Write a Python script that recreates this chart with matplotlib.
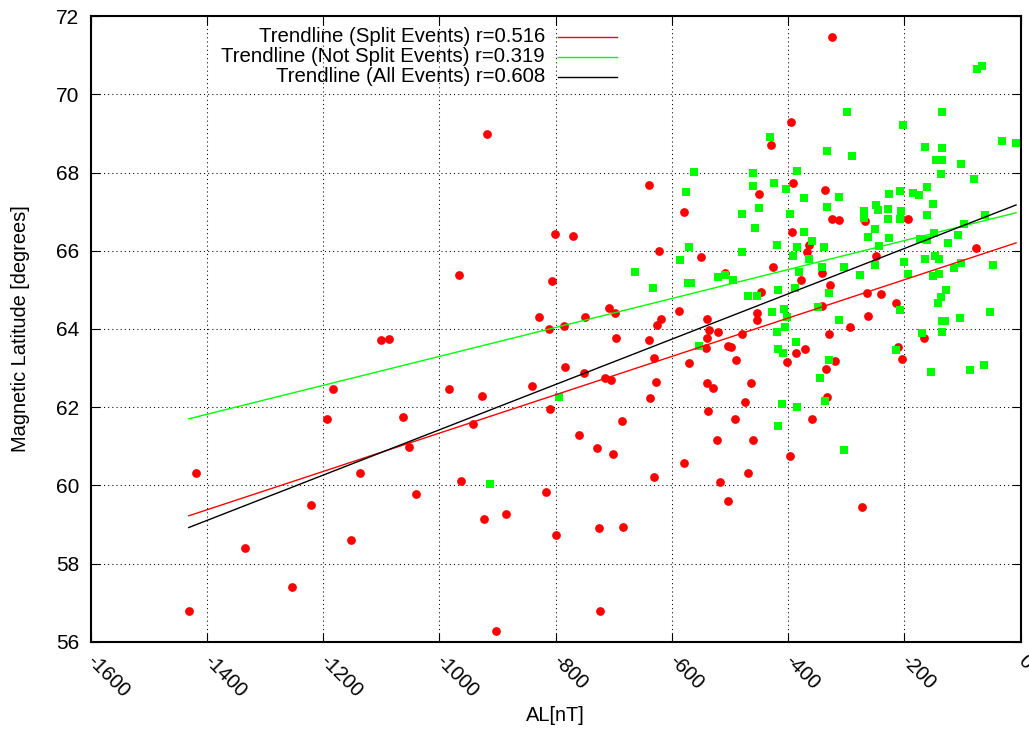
import matplotlib
matplotlib.use("Agg")
import matplotlib.pyplot as plt
from matplotlib.lines import Line2D

plt.rcParams['font.family'] = ['Liberation Sans', 'DejaVu Sans']
plt.rcParams['axes.unicode_minus'] = False

# ---------------- data ----------------
split_al = [-1100, -1087, -1183, -1194, -1418, -1136, -1220, -1334, -1152, -1253, -1431,
            -918, -640, -580, -801, -770, -623, -550, -966, -806, -588, -829, -708, -697,
            -749, -785, -811, -619, -625, -540, -537, -696, -640, -540, -541, -630, -570,
            -783, -752, -715, -705, -627, -540, -530, -984, -927, -841, -637,
            -1062, -1053, -942, -810, -686, -760, -728, -702, -579, -631, -962, -1040,
            -817, -923, -885, -800, -725, -684, -724, -903, -538,
            -324, -395, -430, -392, -450, -337, -325, -312, -268, -194, -393, -364, -77,
            -368, -426, -342, -508, -378, -249, -446, -328, -265, -240, -214, -453, -453,
            -341, -263, -294, -521, -480, -504, -498, -489, -387, -371, -402, -330, -320,
            -335, -333, -464, -475, -492, -359, -523, -461, -397, -517, -469, -504, -273,
            -166, -211, -204]
split_lat = [63.72, 63.75, 62.47, 61.70, 60.31, 60.31, 59.49, 58.40, 58.60, 57.41, 56.79,
             68.98, 67.67, 67.00, 66.42, 66.38, 65.99, 65.83, 65.39, 65.22, 64.45, 64.31, 64.54, 64.41,
             64.31, 64.08, 64.00, 64.25, 64.09, 64.25, 63.97, 63.76, 63.71, 63.78, 63.50, 63.26, 63.13,
             63.02, 62.88, 62.75, 62.69, 62.65, 62.61, 62.48, 62.46, 62.28, 62.54, 62.24,
             61.75, 60.98, 61.57, 61.94, 61.64, 61.29, 60.96, 60.80, 60.58, 60.20, 60.11, 59.78,
             59.83, 59.13, 59.26, 58.74, 58.90, 58.94, 56.79, 56.28, 61.90,
             71.47, 69.30, 68.70, 67.72, 67.44, 67.56, 66.82, 66.78, 66.75, 66.80, 66.48, 66.15, 66.06,
             65.97, 65.59, 65.44, 65.42, 65.25, 65.86, 64.94, 65.12, 64.93, 64.89, 64.65, 64.41, 64.23,
             64.59, 64.32, 64.05, 63.93, 63.87, 63.56, 63.53, 63.20, 63.39, 63.48, 63.16, 63.86, 63.18,
             62.97, 62.25, 62.62, 62.13, 61.70, 61.69, 61.16, 61.15, 60.74, 60.08, 60.31, 59.60, 59.45,
             63.76, 63.54, 63.23]

nosplit_al = [-562, -576, -570, -586, -664, -633, -573, -567, -553, -794, -912,
              -76, -67, -298, -135, -202, -431, -164, -136, -32, -8, -333, -290, -146, -136,
              -103, -137, -461, -384, -80, -461, -425, -403, -373, -312, -227, -207, -186,
              -175, -162, -151, -479, -450, -397, -333, -270, -269, -246, -249, -228, -228,
              -206, -208, -161, -61, -457, -372, -251, -262, -226, -173, -162, -149, -107,
              -97, -125, -419, -359, -384, -338, -243, -479,
              -391, -364, -341, -304, -520, -509, -495, -381, -277, -250, -200, -194, -165,
              -148, -141, -151, -140, -115, -102, -47, -469, -454, -418, -389, -329, -208,
              -142, -137, -129, -52, -105, -136, -130, -136, -427, -407, -402, -406, -348,
              -312, -419, -417, -409, -386, -329, -345, -336, -411, -384, -417, -304, -170,
              -215, -155, -87, -63]
nosplit_lat = [68.01, 67.49, 66.10, 65.76, 65.46, 65.05, 65.17, 65.17, 63.56, 62.27, 60.03,
               70.65, 70.73, 69.55, 69.55, 69.21, 68.92, 68.66, 68.62, 68.81, 68.76, 68.55, 68.42, 68.31, 68.32,
               68.22, 67.97, 67.98, 68.05, 67.83, 67.65, 67.73, 67.59, 67.34, 67.37, 67.44, 67.53, 67.48,
               67.42, 67.63, 67.20, 66.95, 67.09, 66.93, 67.11, 67.01, 66.83, 67.04, 67.18, 67.06, 66.81,
               67.01, 66.81, 66.91, 66.91, 66.59, 66.47, 66.56, 66.36, 66.33, 66.31, 66.27, 66.46, 66.39,
               66.68, 66.19, 66.15, 66.25, 66.10, 66.10, 66.12, 65.97,
               65.86, 65.80, 65.59, 65.58, 65.33, 65.38, 65.25, 65.46, 65.38, 65.63, 65.72, 65.40, 65.80,
               65.86, 65.80, 65.35, 65.40, 65.55, 65.69, 65.63, 64.85, 64.84, 64.99, 65.04, 64.91, 64.48,
               64.65, 64.82, 64.99, 64.42, 64.28, 64.21, 64.21, 63.92, 64.44, 64.51, 64.31, 64.06, 64.55,
               64.23, 63.91, 63.48, 63.38, 63.67, 63.20, 62.74, 62.16, 62.07, 61.99, 61.52, 60.90, 63.89,
               63.46, 62.91, 62.95, 63.07]

# trendline end points (AL range of the data)
trend_al = [-1431, -8]
trend_split = [59.22, 66.20]
trend_nosplit = [61.70, 66.97]
trend_all = [58.92, 67.17]

legend_labels = ["Trendline (Split Events) r=0.516",
                 "Trendline (Not Split Events) r=0.319",
                 "Trendline (All Events) r=0.608"]
legend_colors = ["#ff0000", "#00ff00", "#000000"]

xticks = [-1600, -1400, -1200, -1000, -800, -600, -400, -200, 0]
xtick_labels = ["-1600", "-1400", "-1200", "-1000", "-800", "-600", "-400", "-200", "0"]
yticks = [56, 58, 60, 62, 64, 66, 68, 70, 72]

RED = "#ff0000"
GREEN = "#00ff00"

# ---------------- figure ----------------
W, H = 1029, 730
fig = plt.figure(figsize=(W / 100, H / 100), dpi=100)
ax = fig.add_axes([90.5 / W, 1 - 641.7 / H, (1020.7 - 90.5) / W, (641.7 - 16.1) / H])

ax.plot(split_al, split_lat, linestyle='none', marker='o', ms=6.3, mew=0,
        color=RED, zorder=3, clip_on=False)
ax.plot(nosplit_al, nosplit_lat, linestyle='none', marker='s', ms=5.8, mew=0,
        color=GREEN, zorder=4, clip_on=False)

ax.plot(trend_al, trend_split, color=RED, lw=1.0, zorder=5)
ax.plot(trend_al, trend_nosplit, color=GREEN, lw=1.0, zorder=5)
ax.plot(trend_al, trend_all, color="black", lw=1.0, zorder=5)

ax.set_xlim(-1600, 0)
ax.set_ylim(56, 72)
ax.set_xticks(xticks)
ax.set_xticklabels(xtick_labels, rotation=-45, ha='left', va='center',
                   rotation_mode='anchor', fontsize=14.5)
ax.set_yticks(yticks)
ax.tick_params(axis='y', labelsize=15)
ax.tick_params(direction='in', length=6.7, width=0.8, top=True, right=True,
               color='black')
ax.tick_params(axis='x', pad=12)
ax.tick_params(axis='y', pad=8)

ax.grid(True, color='black', linestyle=(0, (1, 3)), linewidth=0.75)
ax.set_axisbelow(True)
for sp in ax.spines.values():
    sp.set_linewidth(1.5)
    sp.set_zorder(6)

ax.set_xlabel("AL[nT]", fontsize=14.4)
ax.xaxis.set_label_coords(0.5, -0.103)
ax.set_ylabel("Magnetic Latitude [degrees]", fontsize=14.4)
ax.yaxis.set_label_coords(-0.065, 0.5)

# legend (gnuplot style: right-aligned text, sample line to the right)
row_y = [36.7, 56.7, 76.7]
for lab, col, ry in zip(legend_labels, legend_colors, row_y):
    fig.text(545 / W, 1 - ry / H, lab, ha='right', va='center', fontsize=14.7)
    fig.add_artist(Line2D([558 / W, 617 / W], [1 - ry / H, 1 - ry / H],
                          transform=fig.transFigure, color=col, lw=1.0))

fig.savefig("out.png", dpi=100)
